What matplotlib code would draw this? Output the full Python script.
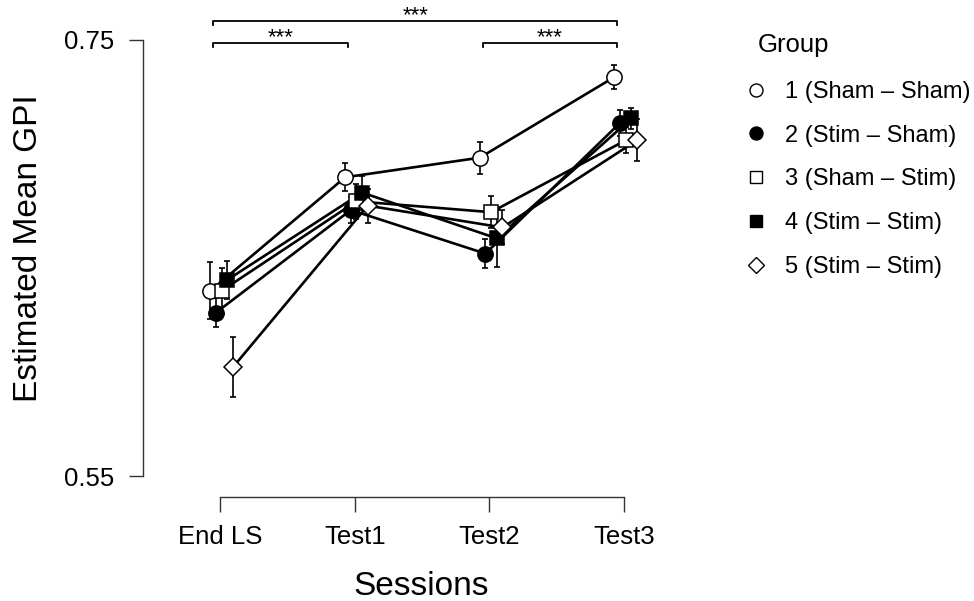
import matplotlib.pyplot as plt
import numpy as np
from matplotlib.lines import Line2D

plt.rcParams['font.family'] = ['Liberation Sans', 'DejaVu Sans']

# sessions and groups
sessions = ['End LS', 'Test1', 'Test2', 'Test3']
groups = ['1 (Sham – Sham)', '2 (Stim – Sham)', '3 (Sham – Stim)',
          '4 (Stim – Stim)', '5 (Stim – Stim)']

# estimated mean GPI per group (End LS, Test1, Test2, Test3)
gpi_g1 = [0.635, 0.687, 0.696, 0.733]
gpi_g2 = [0.625, 0.672, 0.652, 0.712]
gpi_g3 = [0.635, 0.676, 0.671, 0.704]
gpi_g4 = [0.640, 0.680, 0.659, 0.714]
gpi_g5 = [0.600, 0.674, 0.664, 0.704]

# standard errors
se_g1 = [0.013, 0.0065, 0.0073, 0.0055]
se_g2 = [0.0065, 0.006, 0.0065, 0.006]
se_g3 = [0.0105, 0.008, 0.0073, 0.006]
se_g4 = [0.0087, 0.0078, 0.013, 0.005]
se_g5 = [0.0138, 0.0078, 0.0078, 0.0096]

# significance brackets: (from session, to session, label)
brackets = [(0, 3, '***'), (0, 1, '***'), (2, 3, '***')]

means = [gpi_g1, gpi_g2, gpi_g3, gpi_g4, gpi_g5]
errors = [se_g1, se_g2, se_g3, se_g4, se_g5]
markers = ['o', 'o', 's', 's', 'D']
faces = ['white', 'black', 'white', 'black', 'white']
msizes = [11, 11, 10, 10, 9.5]
dodge = [-0.071, -0.029, 0.013, 0.055, 0.097]

fig = plt.figure(figsize=(9.74, 6.01), dpi=100)
ax = fig.add_axes([143 / 974, 104 / 601, 557 / 974, 497 / 601])

x = np.arange(len(sessions))

for m, d in zip(means, dodge):
    ax.plot(x + d, m, color='black', lw=1.9, zorder=2)
for m, e, d in zip(means, errors, dodge):
    ax.errorbar(x + d, m, yerr=e, fmt='none', ecolor='black', elinewidth=1.2,
                capsize=2.3, capthick=1.2, zorder=3)
for m, mk, fc, ms, d in zip(means, markers, faces, msizes, dodge):
    ax.plot(x + d, m, ls='none', marker=mk, ms=ms, mfc=fc, mec='black',
            mew=1.1, zorder=4)

# significance brackets above the lines
levels = [0.7587, 0.7486, 0.7486]
for (a, b, lab), yb in zip(brackets, levels):
    xa, xb = a - 0.05, b - 0.05
    ax.plot([xa, xa, xb, xb], [yb - 0.002, yb, yb, yb - 0.002],
            color='black', lw=1.3, clip_on=False)
    ax.text((xa + xb) / 2, yb - 0.0025, lab, ha='center', va='bottom',
            fontsize=16)

ax.set_xlim(-0.572, 3.564)
ax.set_ylim(0.5404, 0.7683)

for s in ['top', 'right']:
    ax.spines[s].set_visible(False)
ax.spines['left'].set_bounds(0.55, 0.75)
ax.spines['bottom'].set_bounds(0, 3)
for s in ['left', 'bottom']:
    ax.spines[s].set_color('#333333')
    ax.spines[s].set_linewidth(1.0)

ax.set_yticks([0.55, 0.75])
ax.set_yticklabels(['0.55', '0.75'])
ax.set_xticks(x)
ax.set_xticklabels(sessions)
ax.tick_params(axis='y', length=10, width=1.0, color='#333333', pad=11,
               labelsize=18.5)
ax.tick_params(axis='x', length=11, width=1.0, color='#333333', pad=9,
               labelsize=18.5)

ax.set_xlabel('Sessions', fontsize=24, labelpad=16)
ax.set_ylabel('Estimated Mean GPI', fontsize=24, labelpad=14)

handles = [Line2D([], [], ls='none', marker=mk, ms=ms * 0.85, mfc=fc,
                  mec='black', mew=1.0)
           for mk, fc, ms in zip(markers, faces, msizes)]
fig.text(758 / 974, 1 - 45 / 601, 'Group', fontsize=18.5, va='center')
fig.legend(handles, groups, loc='upper left',
           bbox_to_anchor=(744 / 974, 1 - 81 / 601), frameon=False,
           fontsize=17, handlelength=1.0, handletextpad=0.75,
           labelspacing=0.92, borderaxespad=0, borderpad=0)

fig.savefig('out.png', dpi=100)
